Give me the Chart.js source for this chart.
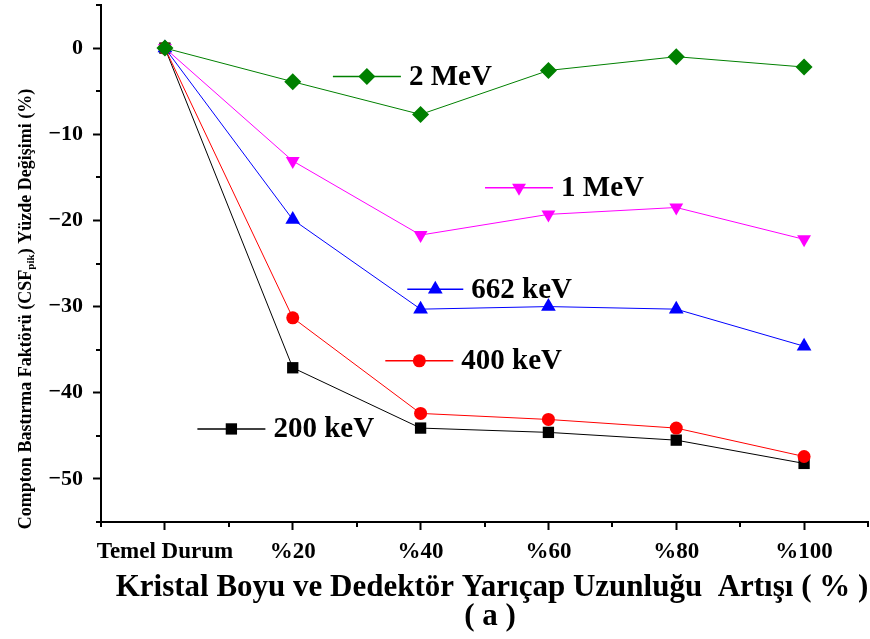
<!DOCTYPE html>
<html lang="tr">
<head>
    <meta charset="UTF-8">
    <title>CSF pik yüzde değişimi</title>
    <script src="https://cdn.jsdelivr.net/npm/chart.js"></script>
    <style>
        body { margin: 0; background: #fff; }
    </style>
</head>
<body>
    <canvas id="csfChart" width="870" height="639"></canvas>

    <script>
        const categories = ['Temel Durum', '%20', '%40', '%60', '%80', '%100'];
        const seriesNames = ['2 MeV', '1 MeV', '662 keV', '400 keV', '200 keV'];
        const mev2 = [0, -3.9, -7.7, -2.6, -1.0, -2.2];
        const mev1 = [0, -13.1, -21.7, -19.3, -18.5, -22.2];
        const kev662 = [0, -19.9, -30.3, -30.0, -30.3, -34.6];
        const kev400 = [0, -31.3, -42.4, -43.1, -44.1, -47.4];
        const kev200 = [0, -37.1, -44.1, -44.6, -45.5, -48.2];
        const yTicks = [0, -10, -20, -30, -40, -50];

        const FONT = "'Liberation Serif', 'Times New Roman', serif";

        const styles = [
            { color: '#008000', pointStyle: 'rectRot', radius: 8.5, rotation: 0 },
            { color: '#ff00ff', pointStyle: 'triangle', radius: 8, rotation: 180 },
            { color: '#0000ff', pointStyle: 'triangle', radius: 8.5, rotation: 0 },
            { color: '#ff0000', pointStyle: 'circle', radius: 6.5, rotation: 0 },
            { color: '#000000', pointStyle: 'rect', radius: 8, rotation: 0 },
        ];
        const values = [mev2, mev1, kev662, kev400, kev200];

        // where each inline legend key sits (marker centre, in data units)
        const keyPos = [
            { x: 1.58, y: -3.3, half: 34 },
            { x: 2.77, y: -16.2, half: 34 },
            { x: 2.115, y: -28.0, half: 28 },
            { x: 1.99, y: -36.3, half: 34 },
            { x: 0.52, y: -44.2, half: 34 },
        ];

        const datasets = values.map((vals, i) => ({
            label: seriesNames[i],
            data: vals.map((v, k) => ({ x: k, y: v })),
            borderColor: styles[i].color,
            backgroundColor: styles[i].color,
            borderWidth: 1,
            pointStyle: styles[i].pointStyle,
            pointRadius: styles[i].radius,
            pointRotation: styles[i].rotation,
            pointBorderWidth: 0,
            tension: 0,
            order: i,
        }));

        const isMajorX = v => Number.isInteger(v);
        const isMajorY = v => v % 10 === 0;

        const annot = {
            id: 'annot',
            afterDraw(chart) {
                const c = chart.ctx;
                const xs = chart.scales.x, ys = chart.scales.y;
                const area = chart.chartArea;
                c.save();
                // minor ticks
                c.strokeStyle = '#000';
                c.lineWidth = 2;
                c.beginPath();
                xs.ticks.forEach(t => {
                    if (!isMajorX(t.value)) {
                        const px = Math.round(xs.getPixelForValue(t.value));
                        c.moveTo(px, area.bottom);
                        c.lineTo(px, area.bottom + 5);
                    }
                });
                ys.ticks.forEach(t => {
                    if (!isMajorY(t.value)) {
                        const py = Math.round(ys.getPixelForValue(t.value));
                        c.moveTo(area.left, py);
                        c.lineTo(area.left - 5, py);
                    }
                });
                c.stroke();

                // inline legend keys
                keyPos.forEach((k, i) => {
                    const st = styles[i];
                    const cx = xs.getPixelForValue(k.x);
                    const cy = ys.getPixelForValue(k.y);
                    c.strokeStyle = st.color;
                    c.lineWidth = 1.5;
                    c.beginPath();
                    c.moveTo(cx - k.half, cy);
                    c.lineTo(cx + k.half, cy);
                    c.stroke();
                    c.fillStyle = st.color;
                    Chart.helpers.drawPoint(c, {
                        pointStyle: st.pointStyle, radius: st.radius,
                        rotation: st.rotation, borderWidth: 0
                    }, cx, cy);
                    c.fillStyle = '#000';
                    c.font = 'bold 29px ' + FONT;
                    c.textAlign = 'left';
                    c.textBaseline = 'middle';
                    c.fillText(seriesNames[i], cx + k.half + 8, cy + 1);
                });

                // x title
                c.fillStyle = '#000';
                c.textAlign = 'center';
                c.textBaseline = 'middle';
                c.font = 'bold 31px ' + FONT;
                c.fillText('Kristal Boyu ve Dedektör Yarıçap Uzunluğu  Artışı ( % )', 492, 588);
                c.fillText('( a )', 490, 617);

                // y title, with subscript
                const parts = [
                    { t: 'Compton Bastırma Faktörü (CSF', f: 'bold 18px ' + FONT, dy: 0 },
                    { t: 'pik', f: 'bold 11px ' + FONT, dy: 5 },
                    { t: ') Yüzde Değişimi (%)', f: 'bold 18px ' + FONT, dy: 0 },
                ];
                let total = 0;
                parts.forEach(p => { c.font = p.f; p.w = c.measureText(p.t).width; total += p.w; });
                c.translate(26, 309);
                c.rotate(-Math.PI / 2);
                c.textAlign = 'left';
                let pos = -total / 2;
                parts.forEach(p => {
                    c.font = p.f;
                    c.fillText(p.t, pos, p.dy);
                    pos += p.w;
                });
                c.restore();
            }
        };

        const ctx = document.getElementById('csfChart').getContext('2d');
        new Chart(ctx, {
            type: 'line',
            data: { datasets },
            plugins: [annot],
            options: {
                responsive: false,
                animation: false,
                layout: { autoPadding: false, padding: { top: 5, right: 2, left: 0, bottom: 0 } },
                plugins: { legend: { display: false }, tooltip: { enabled: false } },
                scales: {
                    x: {
                        type: 'linear',
                        min: -0.5,
                        max: 5.5,
                        ticks: {
                            stepSize: 0.5,
                            autoSkip: false,
                            maxRotation: 0,
                            color: '#000',
                            padding: 8,
                            font: { family: FONT, size: 23, weight: 'bold' },
                            callback: v => (isMajorX(v) && v >= 0 && v < categories.length) ? categories[v] : ''
                        },
                        grid: {
                            drawOnChartArea: false,
                            tickLength: 8,
                            tickWidth: 2,
                            tickColor: c => isMajorX(c.tick.value) ? '#000' : 'rgba(0,0,0,0)'
                        },
                        border: { color: '#000', width: 2 },
                        afterFit: s => { s.height = 117; s.paddingLeft = 0; s.paddingRight = 0; }
                    },
                    y: {
                        min: -55,
                        max: 5,
                        ticks: {
                            stepSize: 5,
                            autoSkip: false,
                            color: '#000',
                            padding: 10,
                            font: { family: FONT, size: 22, weight: 'bold' },
                            callback: v => yTicks.includes(v) ? String(v).replace('-', '\u2212') : ''
                        },
                        grid: {
                            drawOnChartArea: false,
                            tickLength: 8,
                            tickWidth: 2,
                            tickColor: c => isMajorY(c.tick.value) ? '#000' : 'rgba(0,0,0,0)'
                        },
                        border: { color: '#000', width: 2 },
                        afterFit: s => { s.width = 101; s.paddingTop = 0; s.paddingBottom = 0; }
                    }
                }
            }
        });
    </script>
</body>
</html>
